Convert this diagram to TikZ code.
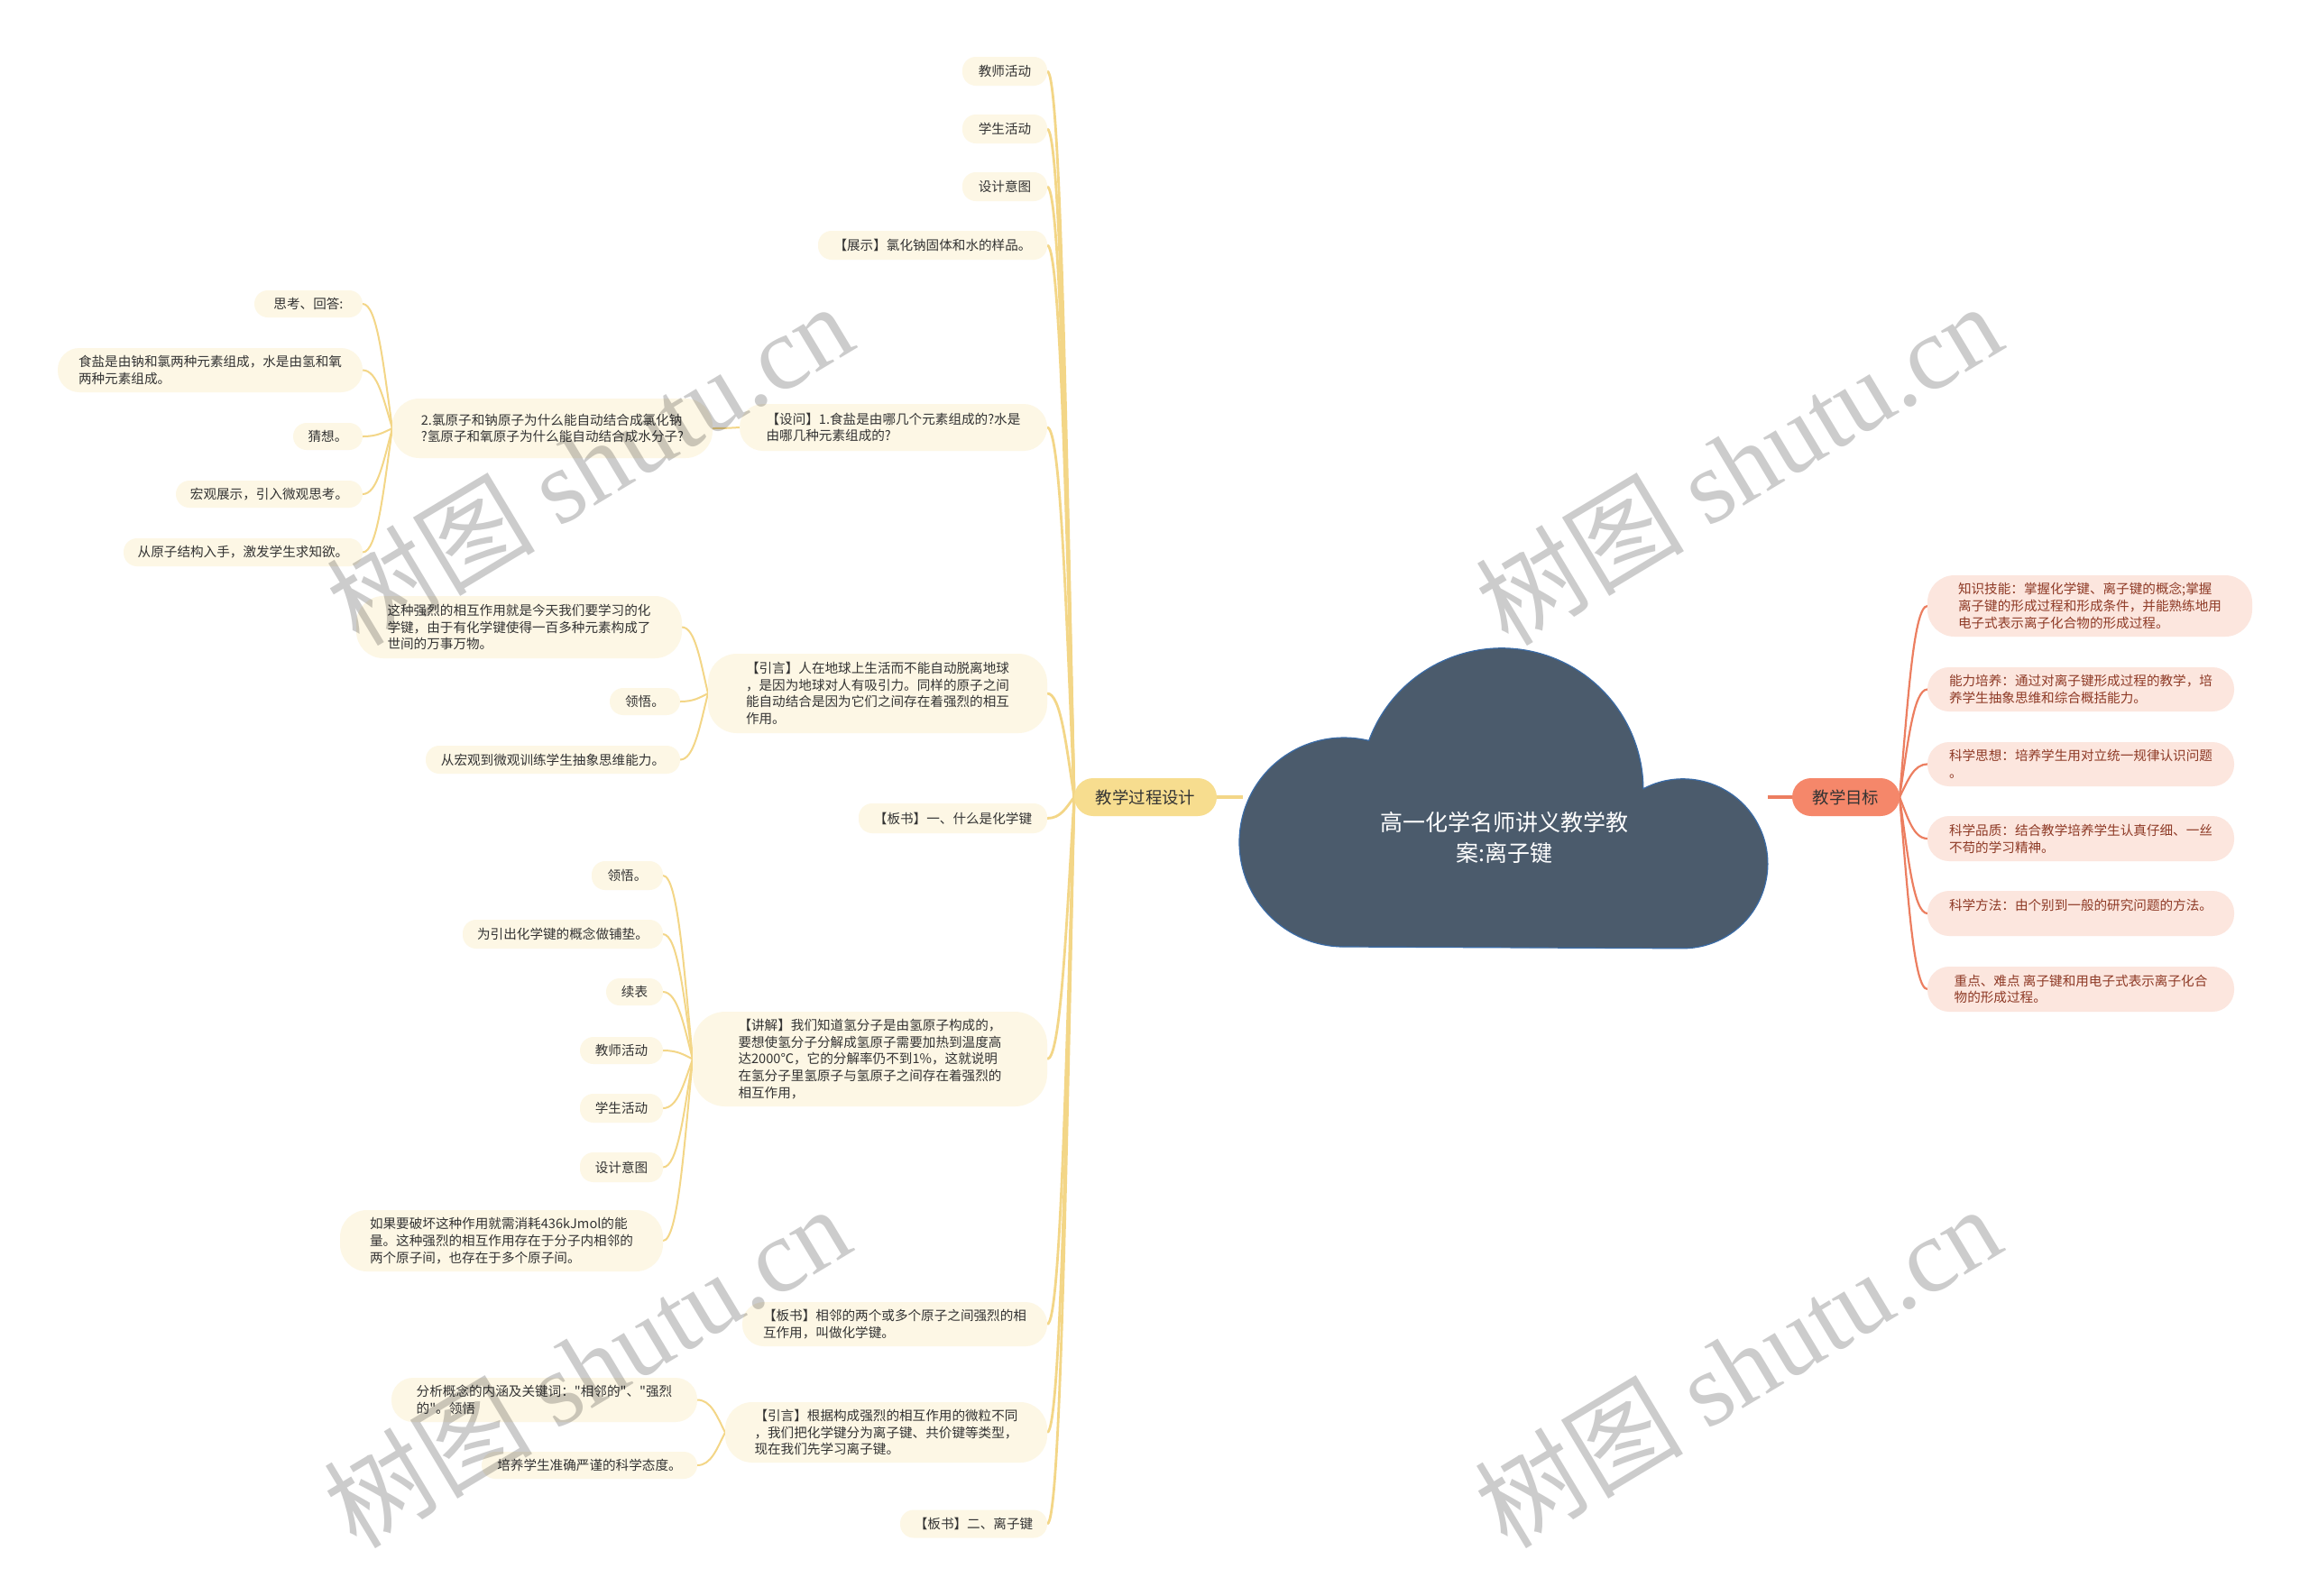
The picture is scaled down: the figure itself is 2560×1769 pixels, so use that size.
\documentclass[tikz,border=0pt]{standalone}
\usepackage{fontspec}
\setmainfont{Noto Sans CJK SC}[Ligatures=TeXOff]
\newfontfamily\wmserif{Liberation Serif}
\usetikzlibrary{backgrounds,calc}
\definecolor{creamfill}{HTML}{FDF7E5}
\definecolor{ltxt}{HTML}{333333}
\definecolor{lbfill}{HTML}{F7DD8F}
\definecolor{lline}{HTML}{F3D687}
\definecolor{rbfill}{HTML}{F5876A}
\definecolor{pinkfill}{HTML}{FCE6DE}
\definecolor{rtxt}{HTML}{8E3A26}
\definecolor{rline}{HTML}{EC7E60}
\definecolor{cloudfill}{HTML}{4B5B6C}
\definecolor{cloudline}{HTML}{3A6BA6}
\tikzset{
  every node/.style={inner sep=0pt, outer sep=0pt},
  smallfont/.style={font=\fontsize{7.3pt}{9.375pt}\selectfont},
  leaf/.style={smallfont, fill=creamfill, text=ltxt, align=left, rounded corners=7.5pt},
  leaftwo/.style={leaf, rounded corners=12pt},
  leafmany/.style={leaf, rounded corners=16pt},
  rleaf/.style={smallfont, fill=pinkfill, text=rtxt, align=left, rounded corners=12pt},
  branchl/.style={fill=lbfill, text=ltxt, font=\fontsize{9.2pt}{11pt}\selectfont, rounded corners=10.5pt, minimum width=79pt, minimum height=21pt},
  branchr/.style={fill=rbfill, text=ltxt, font=\fontsize{9.2pt}{11pt}\selectfont, rounded corners=10.5pt, minimum width=59.5pt, minimum height=21pt},
  lconn/.style={draw=lline, line width=1pt},
  rconn/.style={draw=rline, line width=1.1pt},
  cloudstyle/.style={fill=cloudfill, draw=cloudline, line width=0.6pt},
  titletext/.style={text=white, align=center, font=\fontsize{12.5pt}{17pt}\selectfont},
  wm/.style={rotate=31, text=black, text opacity=0.2, font=\fontsize{58pt}{58pt}\selectfont}
}
\newcommand\mmLeft[3][]{\draw[lconn,#1] let \p1=(#2.west), \p2=(#3.east) in (\p1) .. controls ({\x1+0.3*(\x2-\x1)},{\y1+0.5*(\y2-\y1)}) and ({0.5*\x1+0.5*\x2},\y2) .. (\p2);}
\newcommand\mmRight[3][]{\draw[rconn,#1] let \p1=(#2.east), \p2=(#3.west) in (\p1) .. controls ({\x1+0.3*(\x2-\x1)},{\y1+0.5*(\y2-\y1)}) and ({0.5*\x1+0.5*\x2},\y2) .. (\p2);}
\begin{document}
\begin{tikzpicture}[x=0.5pt, y=-0.5pt]
\useasboundingbox (0,0) rectangle (2560,1769);

% cloud
\draw[cloudstyle] (1490,1050) arc[start angle=-90, end angle=-283.8, radius=58pt]
  arc[start angle=-200.3, end angle=-359.6, radius=78.5pt]
  arc[start angle=-242.1, end angle=-450, radius=47pt] -- cycle;
\node[titletext] (title) at (1668,929) {高一化学名师讲义教学教\\案:离子键};
\coordinate (cloudW) at (1378,884);
\coordinate (cloudE) at (1960,884);

% main branches
\node[branchl] (LB) at (1270,884) {教学过程设计};
\node[branchr] (RB) at (2046.5,884) {教学目标};

% right children
\node[rleaf, anchor=west, minimum width=180pt, minimum height=34pt, rounded corners=15pt] (R1) at (2137,672) {知识技能：掌握化学键、离子键的概念;掌握\\离子键的形成过程和形成条件，并能熟练地用\\电子式表示离子化合物的形成过程。};
\node[rleaf, anchor=west, minimum width=170pt, minimum height=24.5pt] (R2) at (2137,764.5) {能力培养：通过对离子键形成过程的教学，培\\养学生抽象思维和综合概括能力。};
\node[rleaf, anchor=west, minimum width=170pt, minimum height=24.5pt] (R3) at (2137,847.5) {科学思想：培养学生用对立统一规律认识问题\\。};
\node[rleaf, anchor=west, minimum width=170pt, minimum height=25pt] (R4) at (2137,930) {科学品质：结合教学培养学生认真仔细、一丝\\不苟的学习精神。};
\node[rleaf, anchor=west, minimum width=170pt, minimum height=25pt] (R5) at (2137,1013) {科学方法：由个别到一般的研究问题的方法。\\\phantom{科}};
\node[rleaf, anchor=west, minimum width=170pt, minimum height=25pt] (R6) at (2137,1097) {重点、难点 离子键和用电子式表示离子化合\\物的形成过程。};

% first-level left children
\node[leaf, anchor=east, minimum width=47pt, minimum height=16pt] (A1) at (1161,79) {教师活动};
\node[leaf, anchor=east, minimum width=47pt, minimum height=16pt] (A2) at (1161,143) {学生活动};
\node[leaf, anchor=east, minimum width=47pt, minimum height=16pt] (A3) at (1161,207) {设计意图};
\node[leaf, anchor=east, minimum width=127pt, minimum height=16pt] (A4) at (1161,272) {【展示】氯化钠固体和水的样品。};
\node[leaftwo, anchor=east, minimum width=170.5pt, minimum height=26pt, rounded corners=13pt] (A5) at (1161,474) {【设问】1.食盐是由哪几个元素组成的?水是\\由哪几种元素组成的?};
\node[leafmany, anchor=east, minimum width=188pt, minimum height=44pt] (A6) at (1161,769) {【引言】人在地球上生活而不能自动脱离地球\\，是因为地球对人有吸引力。同样的原子之间\\能自动结合是因为它们之间存在着强烈的相互\\作用。};
\node[leaf, anchor=east, minimum width=104.5pt, minimum height=16.5pt] (A7) at (1161,907.5) {【板书】一、什么是化学键};
\node[leafmany, anchor=east, minimum width=196.5pt, minimum height=52.5pt, rounded corners=18pt] (A8) at (1161,1174.5) {【讲解】我们知道氢分子是由氢原子构成的，\\要想使氢分子分解成氢原子需要加热到温度高\\达2000℃，它的分解率仍不到1\%，这就说明\\在氢分子里氢原子与氢原子之间存在着强烈的\\相互作用，};
\node[leaftwo, anchor=east, minimum width=169pt, minimum height=24.5pt] (A9) at (1161,1468.5) {【板书】相邻的两个或多个原子之间强烈的相\\互作用，叫做化学键。};
\node[leafmany, anchor=east, minimum width=178.5pt, minimum height=33.5pt, rounded corners=15pt] (A10) at (1161,1588.5) {【引言】根据构成强烈的相互作用的微粒不同\\，我们把化学键分为离子键、共价键等类型，\\现在我们先学习离子键。};
\node[leaf, anchor=east, minimum width=81.5pt, minimum height=15.5pt] (A11) at (1161,1690) {【板书】二、离子键};

% under 设问
\node[leafmany, anchor=east, minimum width=177.5pt, minimum height=33pt, rounded corners=15pt] (B1) at (790,475) {2.氯原子和钠原子为什么能自动结合成氯化钠\\?氢原子和氧原子为什么能自动结合成水分子?};
\node[leaf, anchor=east, minimum width=60pt, minimum height=15pt] (C1) at (402,337) {思考、回答:};
\node[leaftwo, anchor=east, minimum width=169pt, minimum height=24.5pt] (C2) at (402,410.5) {食盐是由钠和氯两种元素组成，水是由氢和氧\\两种元素组成。};
\node[leaf, anchor=east, minimum width=38.5pt, minimum height=15pt] (C3) at (402,484) {猜想。};
\node[leaf, anchor=east, minimum width=103.5pt, minimum height=15pt] (C4) at (402,548) {宏观展示，引入微观思考。};
\node[leaf, anchor=east, minimum width=132.5pt, minimum height=15.5pt] (C5) at (402,612.5) {从原子结构入手，激发学生求知欲。};

% under 引言1
\node[leafmany, anchor=east, minimum width=180.5pt, minimum height=34.5pt, rounded corners=15pt] (D1) at (756,695.5) {这种强烈的相互作用就是今天我们要学习的化\\学键，由于有化学键使得一百多种元素构成了\\世间的万事万物。};
\node[leaf, anchor=east, minimum width=39pt, minimum height=15pt] (D2) at (754,778) {领悟。};
\node[leaf, anchor=east, minimum width=141pt, minimum height=15.5pt] (D3) at (754,842.5) {从宏观到微观训练学生抽象思维能力。};

% under 讲解
\node[leaf, anchor=east, minimum width=39.5pt, minimum height=16pt] (E1) at (735,971) {领悟。};
\node[leaf, anchor=east, minimum width=111pt, minimum height=16pt] (E2) at (735,1036) {为引出化学键的概念做铺垫。};
\node[leaf, anchor=east, minimum width=31.5pt, minimum height=15pt] (E3) at (735,1100) {续表};
\node[leaf, anchor=east, minimum width=46pt, minimum height=15pt] (E4) at (735,1165) {教师活动};
\node[leaf, anchor=east, minimum width=46pt, minimum height=16pt] (E5) at (735,1229) {学生活动};
\node[leaf, anchor=east, minimum width=46pt, minimum height=16.5pt] (E6) at (735,1294.5) {设计意图};
\node[leafmany, anchor=east, minimum width=179pt, minimum height=34pt, rounded corners=15pt] (E7) at (735,1376) {如果要破坏这种作用就需消耗436kJmol的能\\量。这种强烈的相互作用存在于分子内相邻的\\两个原子间，也存在于多个原子间。};

% under 引言2
\node[leaftwo, anchor=east, minimum width=169.5pt, minimum height=24.5pt] (F1) at (773,1552.5) {分析概念的内涵及关键词："相邻的"、"强烈\\的"。领悟};
\node[leaf, anchor=east, minimum width=119.5pt, minimum height=15pt] (F2) at (773,1625) {培养学生准确严谨的科学态度。};

\begin{pgfonlayer}{background}
  \fill[white] (0,0) rectangle (2560,1769);
  \draw[draw=lline, line width=2pt] (cloudW) -- (LB.east);
  \draw[draw=rline, line width=2pt] (RB.west) -- (cloudE);
  \foreach \c in {A1,A2,A3,A4,A5,A6,A7,A8,A9,A10,A11} {\mmLeft[line width=1.4pt]{LB}{\c}}
  \mmLeft{A5}{B1}
  \foreach \c in {C1,C2,C3,C4,C5} {\mmLeft{B1}{\c}}
  \foreach \c in {D1,D2,D3} {\mmLeft{A6}{\c}}
  \foreach \c in {E1,E2,E3,E4,E5,E6,E7} {\mmLeft{A8}{\c}}
  \foreach \c in {F1,F2} {\mmLeft{A10}{\c}}
  \foreach \c in {R1,R2,R3,R4,R5,R6} {\mmRight{RB}{\c}}
\end{pgfonlayer}

% watermarks
\node[wm] (wm1) at (653,514) {树图 {\wmserif shutu.cn}};
\node[wm] (wm2) at (1927,514) {树图 {\wmserif shutu.cn}};
\node[wm] (wm3) at (650,1515) {树图 {\wmserif shutu.cn}};
\node[wm] (wm4) at (1926,1515) {树图 {\wmserif shutu.cn}};
\end{tikzpicture}
\end{document}
